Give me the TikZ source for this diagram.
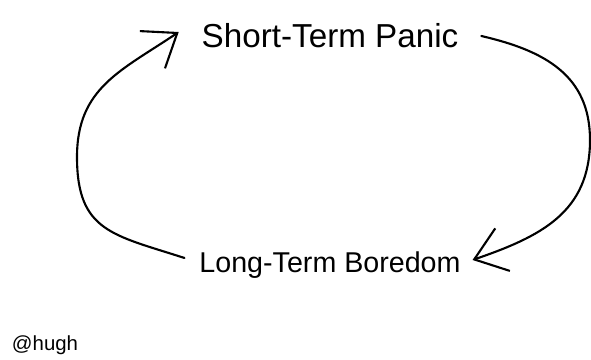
\documentclass[tikz,border=0pt]{standalone}
\usepackage{fontspec}
\setmainfont{Liberation Sans}
\usetikzlibrary{arrows.meta}

\begin{document}
\begin{tikzpicture}[
  >=Stealth,
  cyclearrow/.style={-{Straight Barb[length=6mm,width=9mm,line width=1.2pt]},line width=1.2pt,line cap=round},
  phase/.style={inner sep=0pt,outer xsep=0pt},
  signature/.style={inner sep=0pt,font=\fontsize{11.6}{13}\selectfont}
]
\useasboundingbox (0,0) rectangle (11.82,7.2);

\node[phase,font=\fontsize{18.9}{22}\selectfont] (panic) at (6.6,6.48) {Short-Term Panic};
\node[phase,font=\fontsize{16.3}{20}\selectfont] (boredom) at (6.6,1.9) {Long-Term Boredom};
\node[signature] (hugh) at (0.9,0.3) {@hugh};

% panic -> boredom, round the right side
\draw[cyclearrow] ([xshift=4.6mm]panic.east) to[out=-13,in=90,looseness=1.1] (11.8,4.4)
  to[out=-90,in=19,looseness=1.1] ([xshift=2.4mm,yshift=1mm]boredom.east);
% boredom -> panic, round the left side
\draw[cyclearrow] ([xshift=-3mm,yshift=1.4mm]boredom.west) to[out=162,in=-90,looseness=1.3] (1.54,4.06)
  to[out=90,in=214,looseness=1.1] ([xshift=-4.6mm,yshift=0.8mm]panic.west);
\end{tikzpicture}
\end{document}
